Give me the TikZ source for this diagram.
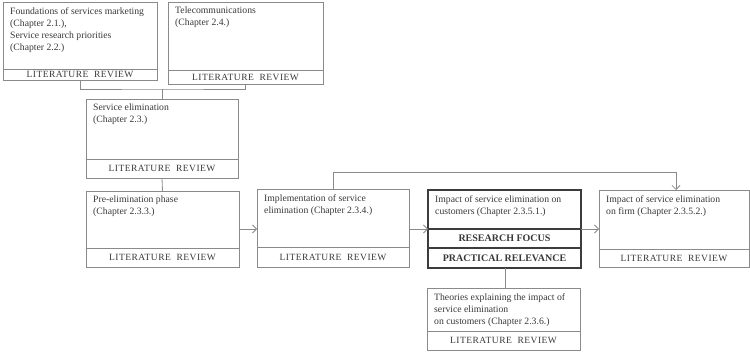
\documentclass[tikz,border=0pt]{standalone}
\usepackage{fontspec}
\setmainfont{Liberation Serif}
\newfontfamily\litfont[LetterSpace=5]{Liberation Serif}
\usetikzlibrary{arrows.meta}
\definecolor{ln}{HTML}{8A8A8A}
\definecolor{dk}{HTML}{3C3C3C}
\definecolor{tx}{HTML}{383838}
\begin{document}
\begin{tikzpicture}[x=1pt,y=-1pt,
  box/.style={draw=ln, line width=0.8pt, anchor=north west, inner sep=0pt, outer sep=0pt},
  strongbox/.style={draw=dk, line width=1.4pt, anchor=north west, inner sep=0pt, outer sep=0pt},
  lit/.style={draw=ln, line width=0.8pt, anchor=south west, inner sep=0pt, outer sep=0pt,
    font=\litfont\fontsize{9.5}{11}\selectfont, text=tx},
  strongpart/.style={draw=dk, line width=1.4pt, anchor=north west, inner sep=0pt, outer sep=0pt,
    font=\fontsize{10}{12}\selectfont\bfseries, text=tx},
  txt/.style={anchor=north west, align=left, inner sep=2pt, font=\fontsize{9.7}{12}\selectfont, text=tx},
  conn/.style={draw=ln, line width=0.8pt},
  arr/.style={conn, -{Straight Barb[length=4pt,width=8pt]}}
]
\useasboundingbox (0,0) rectangle (750,353);

% Box 1
\node[box, minimum width=154pt, minimum height=78pt] (b1) at (3,2) {};
\node[txt] (t1) at ([xshift=5pt,yshift=-3pt]b1.north west) {Foundations of services marketing\\(Chapter 2.1.),\\Service research priorities\\(Chapter 2.2.)};
\node[lit, minimum width=154pt, minimum height=11pt] (l1) at (b1.south west) {LITERATURE\ \ REVIEW};

% Box 2
\node[box, minimum width=155pt, minimum height=82pt] (b2) at (168,2) {};
\node[txt] (t2) at ([xshift=5pt,yshift=-3pt]b2.north west) {Telecommunications\\(Chapter 2.4.)};
\node[lit, minimum width=155pt, minimum height=14pt] (l2) at (b2.south west) {LITERATURE\ \ REVIEW};

% Box 3
\node[box, minimum width=152pt, minimum height=79pt] (b3) at (86,99) {};
\node[txt] (t3) at ([xshift=5pt,yshift=-3pt]b3.north west) {Service elimination\\(Chapter 2.3.)};
\node[lit, minimum width=152pt, minimum height=19pt] (l3) at (b3.south west) {LITERATURE\ \ REVIEW};

% Box 4
\node[box, minimum width=153pt, minimum height=76pt] (b4) at (86,191) {};
\node[txt] (t4) at ([xshift=5pt,yshift=-3pt]b4.north west) {Pre-elimination phase\\(Chapter 2.3.3.)};
\node[lit, minimum width=153pt, minimum height=19pt] (l4) at (b4.south west) {LITERATURE\ \ REVIEW};

% Box 5
\node[box, minimum width=152pt, minimum height=78pt] (b5) at (257,189) {};
\node[txt] (t5) at ([xshift=5pt,yshift=-3pt]b5.north west) {Implementation of service\\elimination (Chapter 2.3.4.)};
\node[lit, minimum width=152pt, minimum height=20pt] (l5) at (b5.south west) {LITERATURE\ \ REVIEW};

% Box 6 (research focus)
\node[strongbox, minimum width=153pt, minimum height=78pt] (b6) at (428,190) {};
\node[txt] (t6) at ([xshift=5pt,yshift=-3pt]b6.north west) {Impact of service elimination on\\customers (Chapter 2.3.5.1.)};
\node[strongpart, minimum width=153pt, minimum height=19pt] (r6) at (428,229) {RESEARCH FOCUS};
\node[strongpart, minimum width=153pt, minimum height=20pt] (p6) at (428,248) {PRACTICAL RELEVANCE};

% Box 7
\node[box, minimum width=150pt, minimum height=77pt] (b7) at (599,190) {};
\node[txt] (t7) at ([xshift=5pt,yshift=-3pt]b7.north west) {Impact of service elimination\\on firm (Chapter 2.3.5.2.)};
\node[lit, minimum width=150pt, minimum height=18pt] (l7) at (b7.south west) {LITERATURE\ \ REVIEW};

% Box 8
\node[box, minimum width=153pt, minimum height=62pt] (b8) at (427,288) {};
\node[txt] (t8) at ([xshift=5pt,yshift=-3pt]b8.north west) {Theories explaining the impact of\\service elimination\\on customers (Chapter 2.3.6.)};
\node[lit, minimum width=153pt, minimum height=19pt] (l8) at (b8.south west) {LITERATURE\ \ REVIEW};

% Connectors
\coordinate (j1) at (162,89);
\draw[conn] (b1.south) |- (j1) -| (b2.south);
\draw[conn] (j1) -- (b3.north);
\draw[conn] (b3.south) -- (b4.north);
\draw[arr] (b4.east |- 0,229) -- (b5.west |- 0,229);
\draw[arr] (b5.east |- 0,229) -- (b6.west |- 0,229);
\draw[arr] (b6.east |- 0,229) -- (b7.west |- 0,229);
\coordinate (u1) at (333,172);
\coordinate (u2) at (676,172);
\draw[arr] (b5.north -| u1) -- (u1) -- (u2) -- (u2 |- b7.north);
\draw[conn] (p6.south -| 505,0) -- (b8.north -| 505,0);
\end{tikzpicture}
\end{document}
